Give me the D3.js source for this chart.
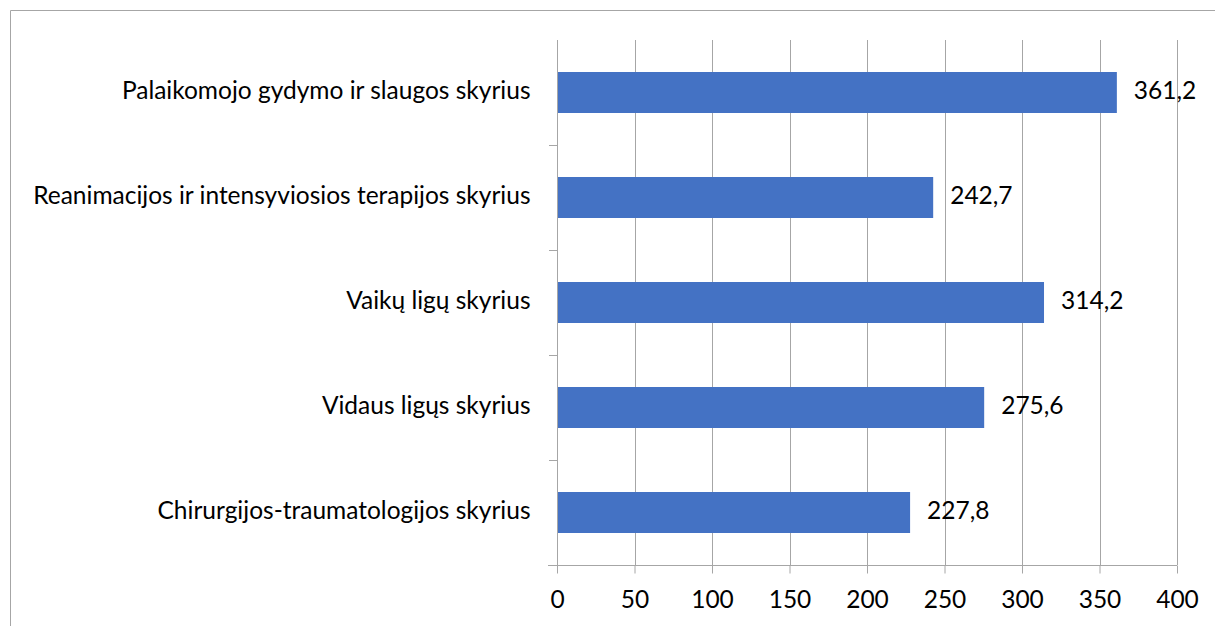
<!DOCTYPE html>
<html>
<head>
<meta charset="utf-8">
<script src="https://cdn.jsdelivr.net/npm/d3@7"></script>
<style>
  body { margin: 0; background: #fff; }
  text { font-family: Lato, "Open Sans", sans-serif; fill: #000; }
</style>
</head>
<body>
<div id="chart"></div>
<script>
const categories = [
  "Palaikomojo gydymo ir slaugos skyrius",
  "Reanimacijos ir intensyviosios terapijos skyrius",
  "Vaikų ligų skyrius",
  "Vidaus ligųs skyrius",
  "Chirurgijos-traumatologijos skyrius",
];
const values = [361.2, 242.7, 314.2, 275.6, 227.8];
const xTicks = [0, 50, 100, 150, 200, 250, 300, 350, 400];

const width = 1215;
const height = 626;
const plotLeft = 557;
const plotRight = 1177;
const plotTop = 40;
const plotBottom = 565;
const fontSize = 24.5;

const svg = d3
  .select("#chart")
  .append("svg")
  .attr("width", width)
  .attr("height", height);

// outer frame (only top and left edges are visible in the picture)
svg
  .append("path")
  .attr("d", "M10.5," + height + "V10.5H" + width)
  .attr("fill", "none")
  .attr("stroke", "#a6a6a6")
  .attr("stroke-width", 1);

const x = d3.scaleLinear().domain([0, 400]).range([plotLeft, plotRight]);
const y = d3.scaleBand().domain(categories).range([plotTop, plotBottom]);

// gridlines
svg
  .append("g")
  .selectAll("line")
  .data(xTicks.slice(1))
  .enter()
  .append("line")
  .attr("x1", (d) => Math.round(x(d)) + 0.5)
  .attr("x2", (d) => Math.round(x(d)) + 0.5)
  .attr("y1", plotTop)
  .attr("y2", plotBottom)
  .attr("stroke", "#a6a6a6");

const barH = 41;
svg
  .append("g")
  .selectAll("rect")
  .data(values)
  .enter()
  .append("rect")
  .attr("x", x(0))
  .attr("y", (d, i) => y(categories[i]) + (y.bandwidth() - barH) / 2)
  .attr("width", (d) => x(d) - x(0))
  .attr("height", barH)
  .attr("fill", "#4472c4");

// x axis
const xAxis = d3
  .axisBottom(x)
  .tickValues(xTicks)
  .tickSize(8)
  .tickPadding(17)
  .tickFormat((d) => d);

const gx = svg
  .append("g")
  .attr("transform", "translate(0," + (plotBottom + 0.5) + ")")
  .call(xAxis);
gx.select(".domain").attr("d", "M" + (plotLeft - 9) + ",0H" + plotRight).attr("stroke", "#a6a6a6");
gx.selectAll(".tick line").attr("stroke", "#a6a6a6");
gx.selectAll(".tick text").attr("font-size", fontSize).attr("font-family", "Lato, sans-serif").attr("fill", "#000");

// y axis
const yAxis = d3.axisLeft(y).tickSize(0).tickPadding(27);
const gy = svg
  .append("g")
  .attr("transform", "translate(" + (plotLeft + 0.5) + ",0)")
  .call(yAxis);
gy.select(".domain").attr("d", "M0," + plotTop + "V" + plotBottom).attr("stroke", "#a6a6a6");
gy.selectAll(".tick text")
  .attr("font-size", fontSize)
  .attr("font-family", "Lato, sans-serif")
  .attr("fill", "#000")
  .attr("dy", "0.27em");

// category separator ticks
svg
  .append("g")
  .selectAll("line")
  .data(categories.slice(1))
  .enter()
  .append("line")
  .attr("x1", plotLeft - 8)
  .attr("x2", plotLeft)
  .attr("y1", (d) => Math.round(y(d)) + 0.5)
  .attr("y2", (d) => Math.round(y(d)) + 0.5)
  .attr("stroke", "#a6a6a6");

// value labels
svg
  .append("g")
  .selectAll("text")
  .data(values)
  .enter()
  .append("text")
  .attr("x", (d) => x(d) + 17)
  .attr("y", (d, i) => y(categories[i]) + y.bandwidth() / 2)
  .attr("dy", "0.27em")
  .attr("font-size", fontSize)
  .text((d) => d.toFixed(1).replace(".", ","));
</script>
</body>
</html>
